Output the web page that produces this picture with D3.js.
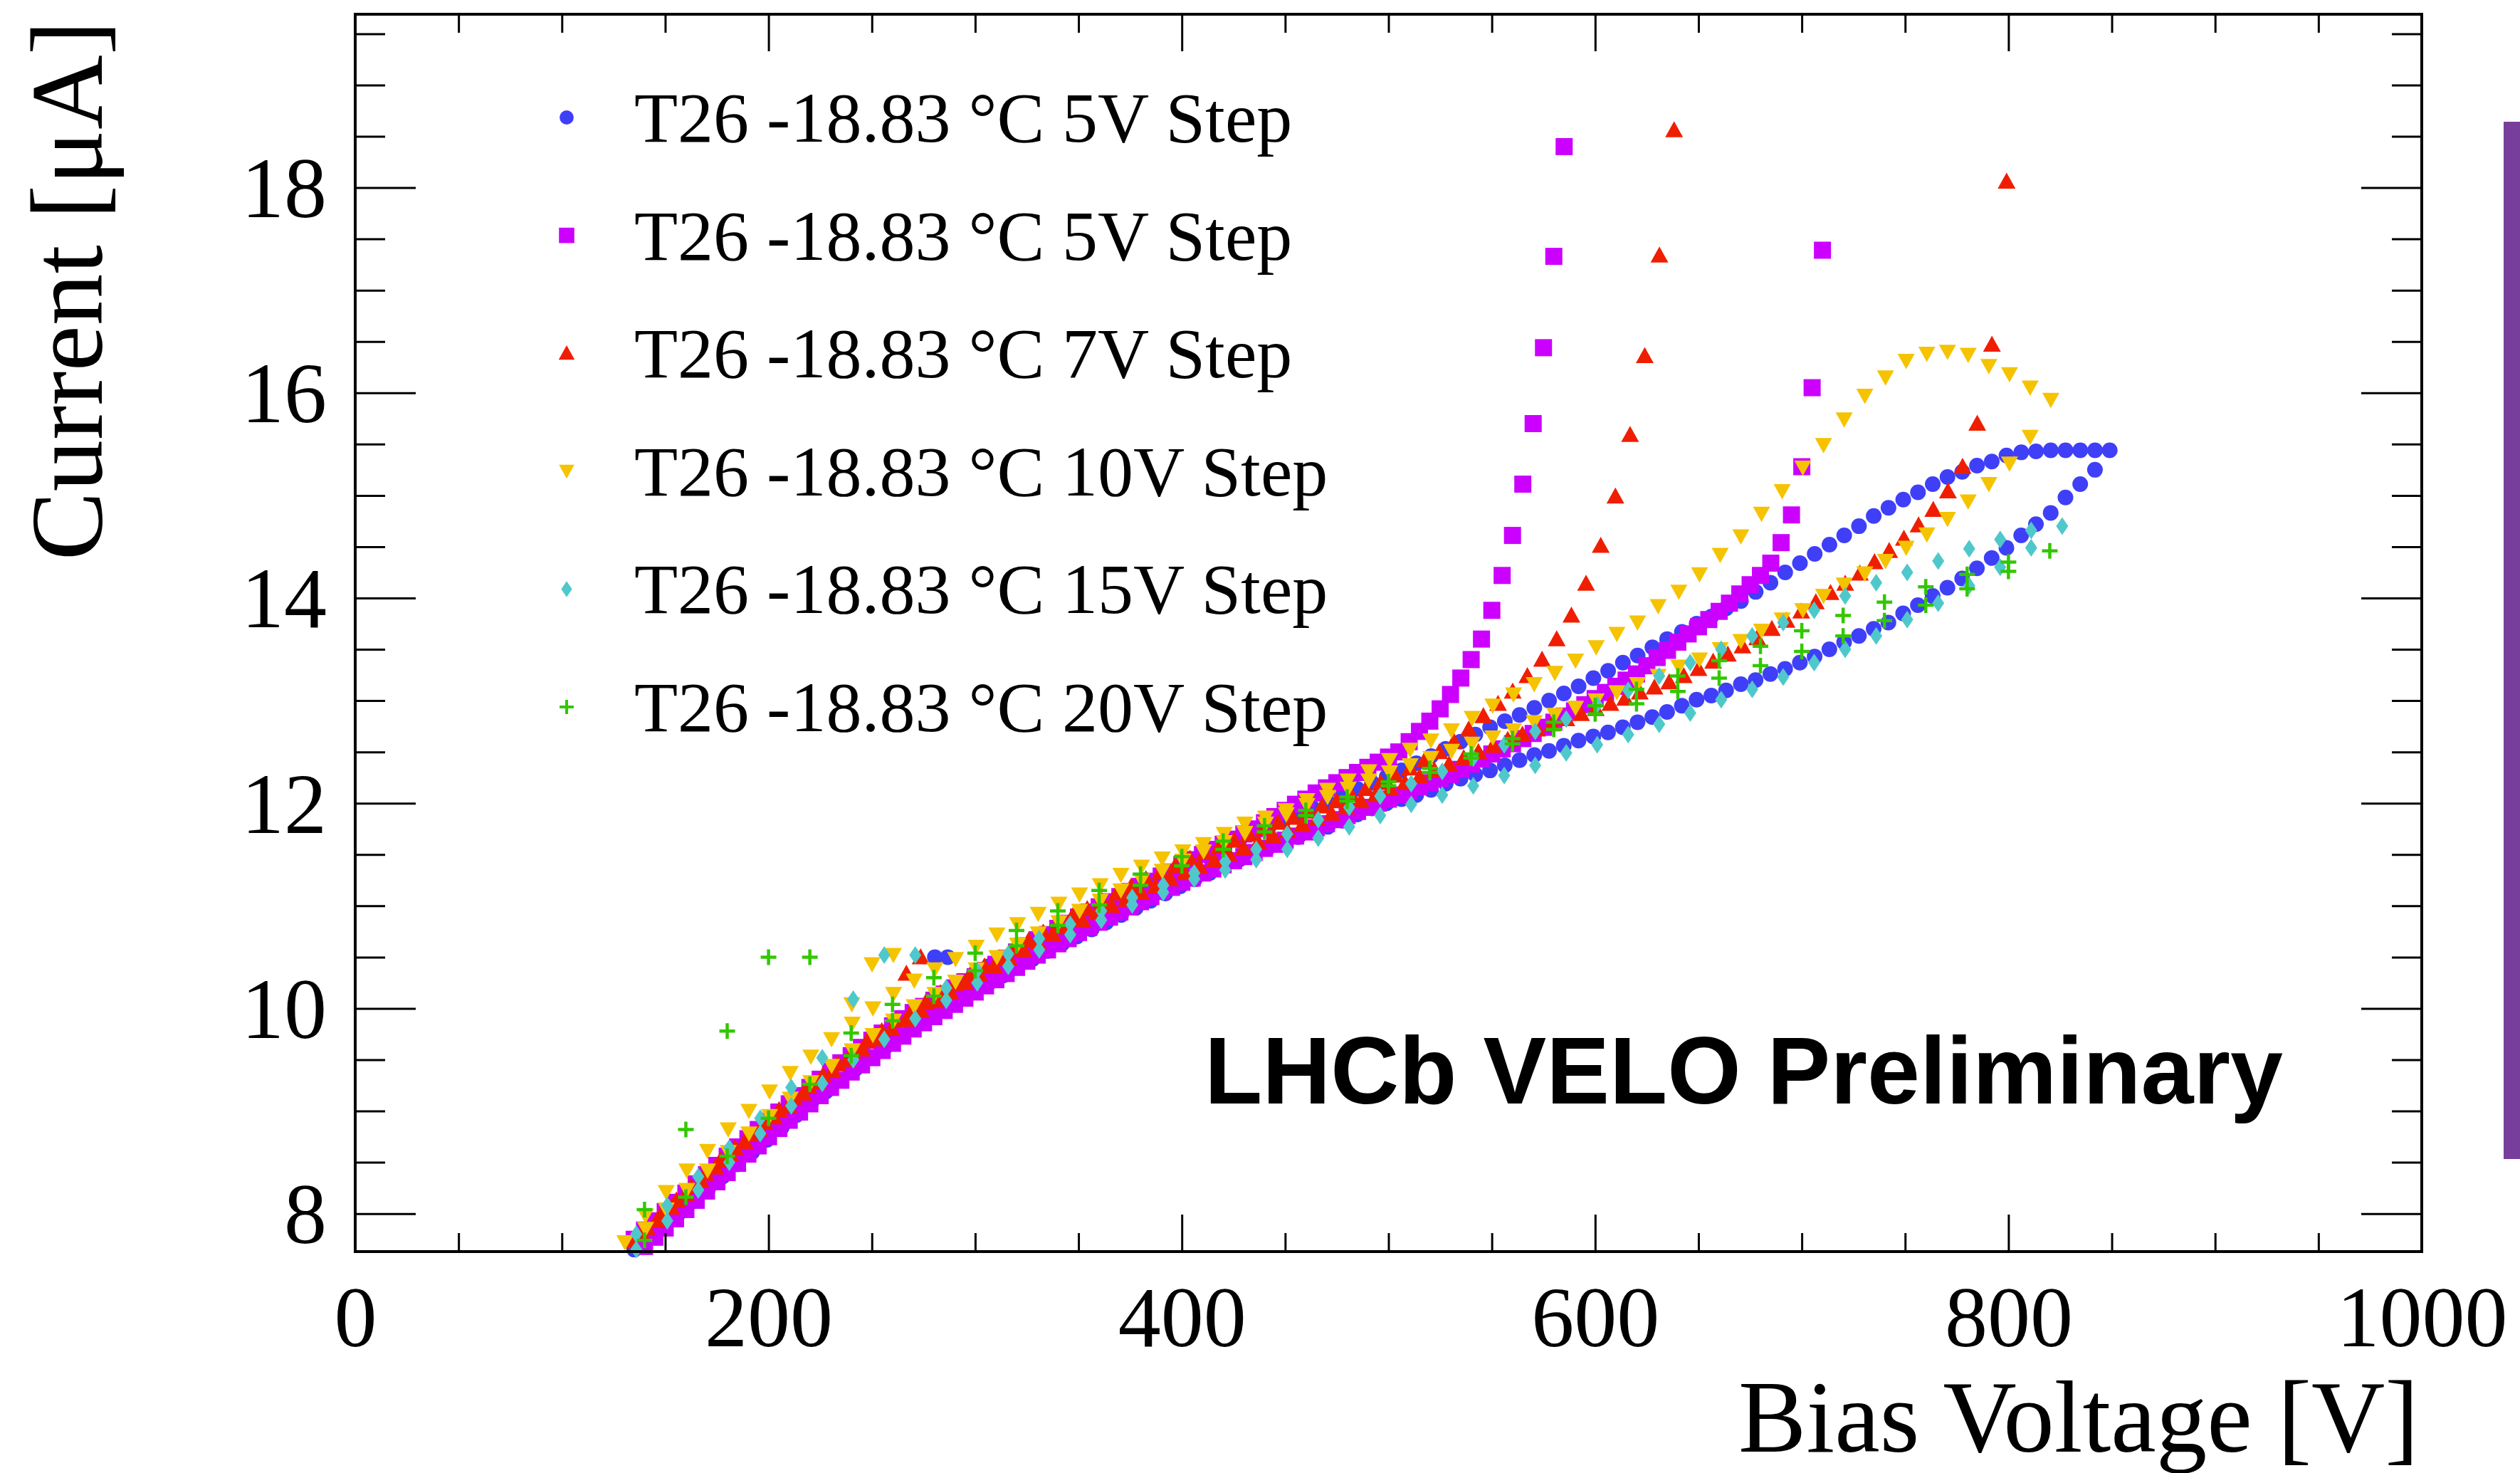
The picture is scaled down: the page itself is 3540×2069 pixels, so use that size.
<!DOCTYPE html>
<html>
<head>
<meta charset="utf-8">
<script src="https://cdn.jsdelivr.net/npm/d3@7"></script>
<style>
  html, body { margin: 0; padding: 0; background: #ffffff; }
  svg { display: block; }
</style>
</head>
<body>
<svg id="chart" width="3540" height="2069"></svg>
<script>
// ---------------------------------------------------------------
// IV scans of sensor T26 at -18.83 °C, several voltage step sizes.
// Each sweep: first bias voltage (V), voltage step (V), measured currents (µA).
// ---------------------------------------------------------------

const legendLabels = [
  "T26 -18.83 °C 5V Step",
  "T26 -18.83 °C 5V Step",
  "T26 -18.83 °C 7V Step",
  "T26 -18.83 °C 10V Step",
  "T26 -18.83 °C 15V Step",
  "T26 -18.83 °C 20V Step"
];

const xTicks = [0, 200, 400, 600, 800, 1000];
const yTicks = [8, 10, 12, 14, 16, 18];

// --- blue circles ---
const blueRise = { start: 135, step: 7.14, current: [
  7.65, 7.76, 7.88, 8.00, 8.12, 8.24, 8.36, 8.48, 8.60, 8.72,
  8.84, 8.96, 9.08, 9.19, 9.30, 9.41, 9.52, 9.62, 9.72, 9.82,
  9.91, 10.00, 10.08, 10.16, 10.24, 10.32, 10.40, 10.48, 10.56, 10.63,
  10.70, 10.77, 10.84, 10.91, 10.98, 11.05, 11.12, 11.19, 11.26, 11.32,
  11.39, 11.45, 11.51, 11.57, 11.62, 11.67, 11.72, 11.77, 11.83, 11.89,
  11.95, 12.00, 12.04, 12.08, 12.13, 12.19, 12.24, 12.28, 12.32, 12.37,
  12.42, 12.47, 12.51, 12.56, 12.61, 12.65, 12.69, 12.74, 12.79, 12.84,
  12.89, 12.95, 13.01, 13.05, 13.10, 13.16, 13.20, 13.26, 13.31, 13.37,
  13.43, 13.50, 13.57, 13.63, 13.70, 13.76, 13.85, 13.93, 14.02, 14.10,
  14.19, 14.29, 14.39, 14.49, 14.61, 14.72, 14.83, 14.98, 15.11, 15.25,
  15.44 ] };
const blueReturn = { start: 841.9, step: -7.14, current: [
  15.44, 15.44, 15.44, 15.44, 15.43, 15.42, 15.39, 15.33, 15.29, 15.23,
  15.18, 15.11, 15.03, 14.96, 14.88, 14.80, 14.70, 14.61, 14.52, 14.43,
  14.34, 14.25, 14.15, 14.06, 13.97, 13.90, 13.82, 13.75, 13.67, 13.60,
  13.52, 13.44, 13.37, 13.29, 13.22, 13.14, 13.07, 13.00, 12.93, 12.86,
  12.80, 12.74, 12.67, 12.60, 12.53, 12.46, 12.39, 12.32, 12.26, 12.20,
  12.14, 12.07, 12.01, 11.95, 11.89, 11.83, 11.77, 11.70, 11.64, 11.57,
  11.50, 11.43, 11.36, 11.29, 11.22, 11.15, 11.08, 11.01, 10.94, 10.87,
  10.80, 10.72, 10.65, 10.57, 10.49, 10.41, 10.33, 10.25 ] };
const blueExtra = [[280.5, 10.50], [286.7, 10.50]];

// --- magenta squares ---
const magentaRise = { start: 135, step: 5, current: [
  7.75, 7.84, 7.93, 8.02, 8.11, 8.20, 8.29, 8.38, 8.47, 8.56,
  8.65, 8.73, 8.82, 8.90, 8.99, 9.07, 9.15, 9.23, 9.31, 9.39,
  9.47, 9.54, 9.62, 9.69, 9.76, 9.83, 9.90, 9.96, 10.02, 10.08,
  10.14, 10.20, 10.26, 10.31, 10.37, 10.43, 10.49, 10.55, 10.61, 10.67,
  10.72, 10.78, 10.83, 10.89, 10.94, 10.99, 11.04, 11.09, 11.14, 11.19,
  11.24, 11.29, 11.33, 11.40, 11.45, 11.50, 11.55, 11.60, 11.65, 11.70,
  11.75, 11.81, 11.87, 11.93, 11.99, 12.04, 12.10, 12.15, 12.20, 12.25,
  12.30, 12.35, 12.40, 12.45, 12.50, 12.60, 12.70, 12.80, 12.92, 13.06,
  13.22, 13.40, 13.60, 13.88, 14.22, 14.61, 15.11, 15.70, 16.44, 17.33,
  18.40 ] };
const magentaReturn = { start: 710, step: -5, current: [
  17.39, 16.05, 15.28, 14.81, 14.54, 14.34, 14.22, 14.13, 14.04, 13.95,
  13.87, 13.79, 13.72, 13.65, 13.57, 13.49, 13.42, 13.34, 13.26, 13.20,
  13.14, 13.08, 13.02, 12.96, 12.90, 12.85, 12.79, 12.74, 12.68, 12.63,
  12.58, 12.53, 12.48, 12.43, 12.38, 12.33, 12.28, 12.24, 12.20, 12.16,
  12.12, 12.08, 12.04, 12.00, 11.96, 11.92, 11.88, 11.84, 11.80, 11.76,
  11.72, 11.68, 11.64, 11.60, 11.56, 11.52, 11.48, 11.44, 11.40, 11.36,
  11.32, 11.27, 11.23, 11.18, 11.14, 11.09, 11.04, 10.99, 10.94, 10.89,
  10.84, 10.79, 10.74, 10.68, 10.63, 10.57, 10.52, 10.46, 10.40, 10.34,
  10.28, 10.22, 10.16, 10.10, 10.04, 9.98, 9.92, 9.86, 9.80, 9.73,
  9.66, 9.59, 9.52, 9.45, 9.38, 9.30, 9.23, 9.15, 9.07, 8.99,
  8.91, 8.83, 8.75, 8.66, 8.58, 8.49, 8.40, 8.31, 8.22, 8.13,
  8.04, 7.95, 7.86, 7.77, 7.68 ] };
const magentaExtra = [];

// --- red triangles ---
const redRise = { start: 134.1, step: 7.1, current: [
  7.73, 7.86, 8.00, 8.13, 8.26, 8.39, 8.52, 8.64, 8.77, 8.89,
  9.01, 9.13, 9.24, 9.35, 9.46, 9.57, 9.68, 9.78, 9.88, 9.97,
  10.06, 10.15, 10.24, 10.32, 10.41, 10.49, 10.58, 10.66, 10.74, 10.82,
  10.90, 10.97, 11.05, 11.12, 11.19, 11.26, 11.33, 11.39, 11.46, 11.52,
  11.58, 11.64, 11.70, 11.75, 11.81, 11.86, 11.92, 11.97, 12.02, 12.08,
  12.14, 12.20, 12.27, 12.34, 12.42, 12.50, 12.60, 12.72, 12.85, 12.97,
  13.09, 13.24, 13.40, 13.60, 13.83, 14.14, 14.51, 14.99, 15.59, 16.36,
  17.34, 18.56 ] };
const redReturn = { start: 799.1, step: -7.1, current: [
  18.06, 16.47, 15.70, 15.28, 15.04, 14.86, 14.71, 14.58, 14.46, 14.35,
  14.24, 14.14, 14.05, 13.96, 13.87, 13.78, 13.70, 13.61, 13.53, 13.45,
  13.38, 13.31, 13.24, 13.18, 13.13, 13.08, 13.02, 12.97, 12.92, 12.87,
  12.82, 12.77, 12.72, 12.67, 12.62, 12.56, 12.50, 12.44, 12.38, 12.32,
  12.26, 12.20, 12.14, 12.08, 12.02, 11.96, 11.90, 11.85, 11.79, 11.73,
  11.68, 11.62, 11.56, 11.50, 11.44, 11.38, 11.32, 11.26, 11.19, 11.13,
  11.06, 11.00, 10.93, 10.86, 10.79, 10.72, 10.64, 10.57, 10.49, 10.41,
  10.33, 10.25, 10.16, 10.07, 9.98, 9.89, 9.80, 9.70, 9.60, 9.50,
  9.39, 9.28, 9.17, 9.05, 8.94, 8.82, 8.70, 8.58, 8.45, 8.32,
  8.19, 8.06, 7.93, 7.80 ] };
const redExtra = [[266.7, 10.34], [273.6, 10.50]];

// --- yellow inverted triangles ---
const yellowRise = { start: 130.5, step: 10, current: [
  7.72, 7.98, 8.21, 8.42, 8.61, 8.82, 9.00, 9.19, 9.37, 9.53,
  9.70, 9.85, 10.00, 10.14, 10.27, 10.38, 10.48, 10.60, 10.72, 10.82,
  10.92, 11.02, 11.11, 11.20, 11.30, 11.38, 11.46, 11.53, 11.60, 11.70,
  11.80, 11.86, 11.93, 12.03, 12.13, 12.22, 12.31, 12.42, 12.52, 12.61,
  12.71, 12.83, 12.95, 13.06, 13.16, 13.27, 13.39, 13.52, 13.65, 13.76,
  13.92, 14.06, 14.23, 14.42, 14.60, 14.82, 15.04, 15.27, 15.49, 15.74,
  15.97, 16.15, 16.31, 16.38, 16.40, 16.37, 16.26, 16.18, 16.05, 15.93 ] };
const yellowReturn = { start: 810.5, step: -10, current: [
  15.57, 15.31, 15.11, 14.94, 14.77, 14.62, 14.49, 14.36, 14.24, 14.13,
  14.02, 13.88, 13.79, 13.68, 13.58, 13.50, 13.40, 13.33, 13.24, 13.16,
  13.08, 13.00, 12.93, 12.86, 12.79, 12.71, 12.64, 12.58, 12.51, 12.44,
  12.37, 12.30, 12.22, 12.14, 12.06, 11.98, 11.89, 11.80, 11.71, 11.62,
  11.53, 11.44, 11.34, 11.25, 11.15, 11.05, 10.95, 10.84, 10.73, 10.62,
  10.50, 10.38, 10.26, 10.14, 10.02, 9.88, 9.74, 9.59, 9.44, 9.28,
  9.12, 8.95, 8.78, 8.60, 8.42, 8.23, 8.04, 7.85 ] };
const yellowExtra = [[240.3, 10.04], [250.1, 10.43], [260.4, 10.52]];

// --- cyan diamonds ---
const cyanRise = { start: 136, step: 15, current: [
  7.65, 7.93, 8.23, 8.50, 8.78, 9.05, 9.27, 9.50, 9.70, 9.90,
  10.08, 10.25, 10.41, 10.57, 10.72, 10.86, 11.01, 11.13, 11.26, 11.35,
  11.45, 11.55, 11.66, 11.77, 11.88, 11.99, 12.08, 12.17, 12.27, 12.37,
  12.49, 12.57, 12.67, 12.77, 12.88, 13.01, 13.11, 13.23, 13.37, 13.50,
  13.63, 13.79, 13.95, 14.12, 14.30, 14.49, 14.70 ] };
const cyanReturn = { start: 811, step: -15, current: [
  14.66, 14.57, 14.48, 14.36, 14.25, 14.15, 14.02, 13.88, 13.76, 13.63,
  13.50, 13.37, 13.24, 13.10, 12.96, 12.82, 12.70, 12.57, 12.44, 12.31,
  12.19, 12.07, 11.96, 11.84, 11.70, 11.55, 11.43, 11.32, 11.20, 11.08,
  10.95, 10.82, 10.68, 10.53, 10.37, 10.20, 10.52, 10.52, 10.09, 9.52,
  9.23, 8.93, 8.64, 8.36, 8.08, 7.80 ] };
const cyanExtra = [];

// --- green crosses ---
const greenRise = { start: 140, step: 20, current: [
  7.74, 8.16, 8.56, 8.93, 9.26, 9.54, 9.88, 10.12, 10.37, 10.61,
  10.81, 11.01, 11.20, 11.39, 11.55, 11.72, 11.88, 12.02, 12.17, 12.30,
  12.44, 12.58, 12.72, 12.87, 12.97, 13.09, 13.22, 13.34, 13.48, 13.63,
  13.78, 13.93, 14.09, 14.26, 14.46 ] };
const greenReturn = { start: 800, step: -20, current: [
  14.35, 14.23, 14.11, 13.96, 13.83, 13.68, 13.53, 13.39, 13.24, 13.11,
  12.95, 12.79, 12.63, 12.48, 12.34, 12.21, 12.06, 11.93, 11.78, 11.63,
  11.48, 11.31, 11.15, 10.95, 10.76, 10.54, 10.30, 10.04, 9.76, 10.50,
  10.50, 9.78, 8.82, 8.04 ] };
const greenExtra = [];

// ---------------------------------------------------------------
const series = [
  { label: legendLabels[0], color: "#3f3ff8", shape: "circle",  sweeps: [blueRise, blueReturn],       extra: blueExtra },
  { label: legendLabels[1], color: "#cc00ff", shape: "square",  sweeps: [magentaRise, magentaReturn], extra: magentaExtra },
  { label: legendLabels[2], color: "#f01e00", shape: "triUp",   sweeps: [redRise, redReturn],         extra: redExtra },
  { label: legendLabels[3], color: "#f5c300", shape: "triDown", sweeps: [yellowRise, yellowReturn],   extra: yellowExtra },
  { label: legendLabels[4], color: "#4fc8cc", shape: "diamond", sweeps: [cyanRise, cyanReturn],       extra: cyanExtra },
  { label: legendLabels[5], color: "#33c700", shape: "plus",    sweeps: [greenRise, greenReturn],     extra: greenExtra }
];

function sweepPoints(sw) {
  return sw.current.map((c, k) => [sw.start + k * sw.step, c]);
}

const serif = "'Liberation Serif', 'Times New Roman', Times, serif";
const sans = "'Liberation Sans', Arial, Helvetica, sans-serif";

const svg = d3.select("#chart");

const x = d3.scaleLinear().domain([0, 1000]).range([499, 3402]);
const y = d3.scaleLinear().domain([7.63, 19.69]).range([1758, 20]);
const [xL, xR] = x.range();
const [yB, yT] = y.range();

const xMinor = d3.range(0, 1001, 50).filter(v => v % 200 !== 0);
const yMinor = d3.range(8, 19.6, 0.5).filter(v => v % 2 !== 0);

// marker outlines, centred on the data point
const shapes = {
  circle: d3.symbol(d3.symbolCircle, Math.PI * 11 * 11)(),
  square: "M-12,-12H12V12H-12Z",
  triUp: "M0,-12.5L12.5,10L-12.5,10Z",
  triDown: "M-12,-10L12,-10L0,11.5Z",
  diamond: "M0,-12.5L8.5,0L0,12.5L-8.5,0Z",
  plus: "M-11,0H11M0,-11V11"
};

function styleMarker(sel, s) {
  if (s.shape === "plus") {
    sel.attr("fill", "none").attr("stroke", s.color).attr("stroke-width", 4.5);
  } else {
    sel.attr("fill", s.color).attr("stroke", "none");
  }
}

// ---- data markers ----
const plot = svg.append("g").attr("class", "markers");
series.forEach(s => {
  const pts = s.sweeps.flatMap(sweepPoints).concat(s.extra);
  plot.append("g")
    .selectAll("path")
    .data(pts)
    .join("path")
    .attr("d", shapes[s.shape])
    .attr("transform", d => `translate(${x(d[0])},${y(d[1])})`)
    .call(styleMarker, s);
});

// ---- axes ----
function axisGroup(axis, tx, ty) {
  const g = svg.append("g").attr("transform", `translate(${tx},${ty})`).call(axis);
  g.select(".domain").remove();
  g.selectAll(".tick line").attr("stroke", "#000").attr("stroke-width", 3);
  return g;
}

const gBottom = axisGroup(d3.axisBottom(x).tickValues(xTicks).tickSize(-52).tickFormat(d3.format("d")), 0, yB);
gBottom.selectAll(".tick text")
  .attr("y", 133).attr("dy", null)
  .attr("font-size", 120).attr("font-family", serif).attr("fill", "#000");
axisGroup(d3.axisBottom(x).tickValues(xMinor).tickSize(-26).tickFormat(""), 0, yB);
axisGroup(d3.axisTop(x).tickValues(xTicks).tickSize(-52).tickFormat(""), 0, yT);
axisGroup(d3.axisTop(x).tickValues(xMinor).tickSize(-26).tickFormat(""), 0, yT);

const gLeft = axisGroup(d3.axisLeft(y).tickValues(yTicks).tickSize(-85).tickFormat(d3.format("d")), xL, 0);
gLeft.selectAll(".tick text")
  .attr("x", -40).attr("dy", "0.34em")
  .attr("font-size", 120).attr("font-family", serif).attr("fill", "#000");
axisGroup(d3.axisLeft(y).tickValues(yMinor).tickSize(-42).tickFormat(""), xL, 0);
axisGroup(d3.axisRight(y).tickValues(yTicks).tickSize(-85).tickFormat(""), xR, 0);
axisGroup(d3.axisRight(y).tickValues(yMinor).tickSize(-42).tickFormat(""), xR, 0);

// frame
svg.append("rect")
  .attr("x", xL).attr("y", yT)
  .attr("width", xR - xL).attr("height", yB - yT)
  .attr("fill", "none").attr("stroke", "#000").attr("stroke-width", 4);

// axis titles
svg.append("text")
  .attr("x", 3398).attr("y", 2039)
  .attr("text-anchor", "end")
  .attr("font-family", serif).attr("font-size", 143)
  .text("Bias Voltage [V]");

svg.append("text")
  .attr("transform", "translate(143,29) rotate(-90)")
  .attr("text-anchor", "end")
  .attr("font-family", serif).attr("font-size", 145)
  .text("Current [μA]");

// ---- legend ----
const legend = svg.append("g").attr("class", "legend");
series.forEach((s, i) => {
  const cy = 165 + 165.6 * i;
  legend.append("path")
    .attr("d", shapes[s.shape])
    .attr("transform", `translate(796,${cy}) scale(0.9)`)
    .call(styleMarker, s);
  legend.append("text")
    .attr("x", 891).attr("y", cy + 34)
    .attr("font-family", serif).attr("font-size", 100)
    .attr("fill", "#000")
    .text(s.label);
});

// ---- label ----
svg.append("text")
  .attr("x", 1692).attr("y", 1550)
  .attr("font-family", sans).attr("font-weight", "bold").attr("font-size", 133)
  .attr("fill", "#000")
  .text("LHCb VELO Preliminary");

// side bar at the right edge
svg.append("rect")
  .attr("x", 3517).attr("y", 171)
  .attr("width", 23).attr("height", 1457)
  .attr("fill", "#773f9b");
</script>
</body>
</html>
